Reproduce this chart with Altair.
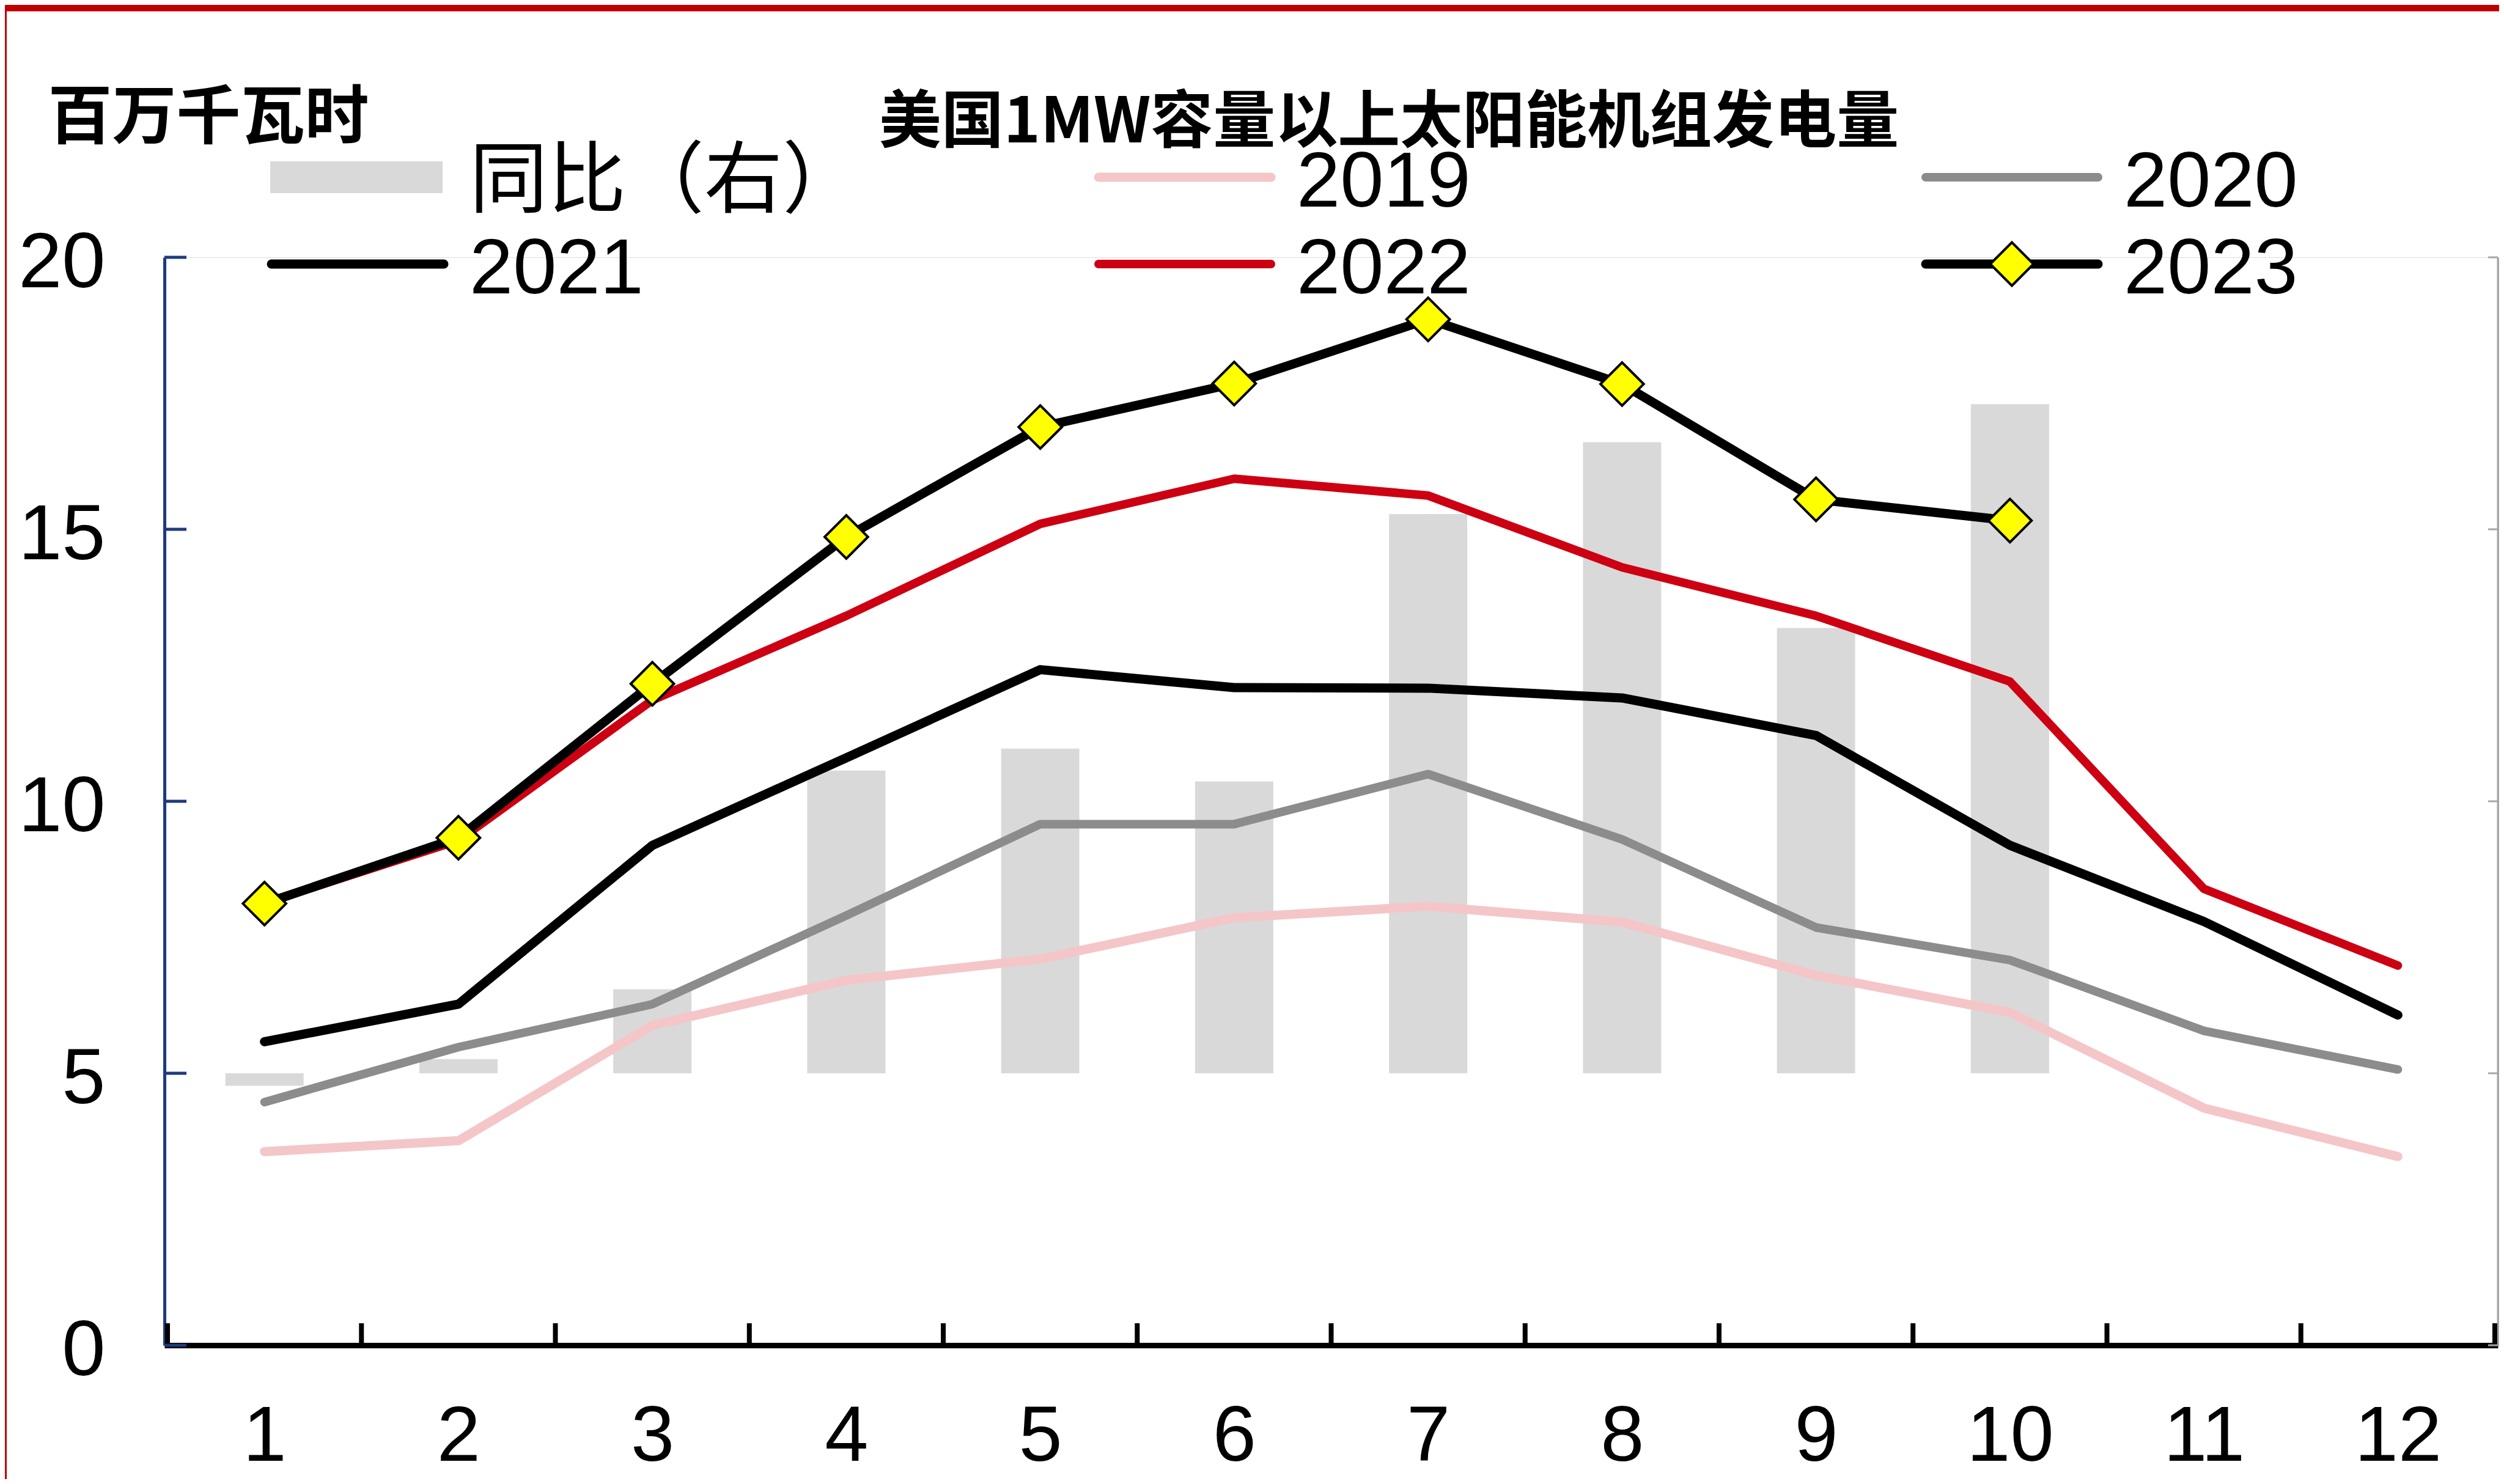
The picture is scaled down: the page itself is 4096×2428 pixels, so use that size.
import altair as alt
import pandas as pd

# ---------------- data ----------------
months = list(range(1, 13))
v2019 = [3.56, 3.76, 5.88, 6.71, 7.10, 7.86, 8.07, 7.78, 6.80, 6.12, 4.36, 3.47]
v2020 = [4.47, 5.48, 6.27, 7.90, 9.58, 9.58, 10.50, 9.30, 7.68, 7.08, 5.78, 5.07]
v2021 = [5.58, 6.27, 9.19, 10.80, 12.42, 12.09, 12.08, 11.90, 11.21, 9.19, 7.79, 6.07]
v2022 = [8.13, 9.28, 11.86, 13.41, 15.10, 15.93, 15.62, 14.30, 13.41, 12.20, 8.39, 6.98]
v2023 = [8.12, 9.33, 12.16, 14.86, 16.88, 17.68, 18.86, 17.67, 15.55, 15.16]
yoy = [-0.46, 0.52, 3.09, 11.13, 11.94, 10.73, 20.56, 23.20, 16.37, 24.60]   # 同比 %, right axis
left_ticks = [0, 5, 10, 15, 20]
right_domain = [-10, 30]
legend_names = ["同比（右）", "2019", "2020", "2021", "2022", "2023"]
title_text = "美国1MW容量以上太阳能机组发电量"
unit_text = "百万千瓦时"

# ---------------- layout / style ----------------
W, H = 3817, 1780
PAD = {"left": 261, "top": 413, "right": 2, "bottom": 219}
FONT = "'Liberation Sans', 'Noto Sans CJK SC', sans-serif"
CJK = "'Noto Sans CJK SC', sans-serif"
NAVY = "#1B3C7C"
RGRAY = "#A6A6A6"
BARC = "#D9D9D9"
FRAME = "#C00000"
colors = {"2019": "#F4C6C8", "2020": "#8C8C8C", "2021": "#000000",
          "2022": "#CC0012", "2023": "#000000"}
widths = {"2019": 15, "2020": 14, "2021": 15, "2022": 14, "2023": 15}
DIAMOND = 5000

xscale = alt.Scale(domain=[0.5, 12.5], nice=False, zero=False)
yscale = alt.Scale(domain=[0, 20], nice=False)
yscale_r = alt.Scale(domain=right_domain, nice=False, zero=False)

xaxis = alt.Axis(values=months, title=None, labelFontSize=128, labelFont=FONT,
                 labelColor="black", labelPadding=87, ticks=False, tickSize=0,
                 domainColor="black", domainWidth=9, grid=False, labelFlush=False,
                 labelOverlap=False, labelAngle=0, labelBaseline="top", labelAlign="center")
yaxis = alt.Axis(values=left_ticks, title=unit_text, titleAngle=0, titleAlign="left",
                 titleBaseline="alphabetic", titleX=-191, titleY=-196, titleFont=CJK,
                 titleFontSize=105, titleFontWeight="bold", titleColor="black",
                 labelFontSize=128, labelFont=FONT, labelColor="black", labelPadding=97,
                 ticks=False, tickSize=0, domainColor=NAVY, domainWidth=5, grid=False,
                 labelBaseline="middle", labelOffset=10, labelFlush=False, orient="left")
yaxis_r = alt.Axis(orient="right", labels=False, ticks=False, tickSize=0, title=None,
                   domainColor=RGRAY, domainWidth=4, grid=False)

X = alt.X("month:Q", scale=xscale, axis=xaxis)
Y = alt.Y("value:Q", scale=yscale, axis=yaxis)

# ---------------- bars (right axis) ----------------
bar_df = pd.DataFrame({"month": months[:len(yoy)], "yoy": yoy})
bars = alt.Chart(bar_df).mark_bar(size=128, color=BARC).encode(
    x=X, y=alt.Y("yoy:Q", scale=yscale_r, axis=yaxis_r))

# ---------------- lines ----------------
def line(name, vals):
    df = pd.DataFrame({"month": months[:len(vals)], "value": vals})
    return alt.Chart(df).mark_line(color=colors[name], strokeWidth=widths[name],
                                   strokeCap="round", strokeJoin="round").encode(x=X, y=Y)

series = [("2019", v2019), ("2020", v2020), ("2021", v2021), ("2022", v2022), ("2023", v2023)]
layers = [line(n, v) for n, v in series]
pts_df = pd.DataFrame({"month": months[:len(v2023)], "value": v2023})
layers.append(alt.Chart(pts_df).mark_point(shape="diamond", size=DIAMOND, filled=True,
                                           fill="#FFFF00", stroke="black", strokeWidth=4,
                                           opacity=1).encode(x=X, y=Y))

# ---------------- inward ticks ----------------
bounds = pd.DataFrame({"b": [m - 0.5 for m in months] + [months[-1] + 0.5]})
layers.append(alt.Chart(bounds).mark_rule(color="black", strokeWidth=8).encode(
    x=alt.X("b:Q", scale=xscale, axis=xaxis), y=alt.value(H - 36), y2=alt.value(H)))
tick_df = pd.DataFrame({"value": left_ticks})
layers.append(alt.Chart(tick_df).mark_rule(color=NAVY, strokeWidth=5).encode(
    y=Y, x=alt.value(0), x2=alt.value(36)))
layers.append(alt.Chart(tick_df).mark_rule(color=RGRAY, strokeWidth=3).encode(
    y=Y, x=alt.value(W - 16), x2=alt.value(W)))

# ---------------- legend (3 columns x 2 rows) ----------------
one = pd.DataFrame({"k": [0]})
LX0, LDX, LY0, LDY = 167, 1353, -131, 142
SW, TXT_DX, TXT_DY = 298, 332, 48
for i, name in enumerate(legend_names):
    col, row = i % 3, i // 3
    x0 = LX0 + col * LDX
    yy = LY0 + row * LDY
    if i == 0:
        layers.append(alt.Chart(one).mark_rule(color=BARC, strokeWidth=52, strokeCap="butt").encode(
            x=alt.value(x0 + 6), x2=alt.value(x0 + SW - 10), y=alt.value(yy)))
    else:
        layers.append(alt.Chart(one).mark_rule(color=colors[name], strokeWidth=widths[name],
                                               strokeCap="round").encode(
            x=alt.value(x0 + 8), x2=alt.value(x0 + SW - 8), y=alt.value(yy)))
        if name == "2023":
            layers.append(alt.Chart(one).mark_point(shape="diamond", size=DIAMOND, filled=True,
                                                    fill="#FFFF00", stroke="black", strokeWidth=4,
                                                    opacity=1).encode(
                x=alt.value(x0 + SW / 2), y=alt.value(yy)))
    layers.append(alt.Chart(one).mark_text(text=name, font=FONT, fontSize=128, color="black",
                                           align="left", baseline="alphabetic").encode(
        x=alt.value(x0 + TXT_DX), y=alt.value(yy + TXT_DY)))

# ---------------- chart title ----------------
layers.append(alt.Chart(one).mark_text(text=title_text, font=CJK, fontSize=102, fontWeight="bold",
                                       color="black", align="center", baseline="alphabetic").encode(
    x=alt.value(2003), y=alt.value(-188)))

# ---------------- red frame (top and left edges) ----------------
layers.append(alt.Chart(one).mark_rule(color=FRAME, strokeWidth=11).encode(
    x=alt.value(-PAD["left"]), x2=alt.value(W + PAD["right"]), y=alt.value(-PAD["top"] + 5)))
layers.append(alt.Chart(one).mark_rule(color=FRAME, strokeWidth=3).encode(
    x=alt.value(-PAD["left"] + 1.5), y=alt.value(-PAD["top"]), y2=alt.value(H + PAD["bottom"])))

main = alt.layer(*layers)

chart = alt.layer(bars, main).resolve_scale(y="independent").properties(
    width=W, height=H, padding=PAD,
    autosize=alt.AutoSizeParams(type="none"),
).configure_view(stroke=None).configure(background="white")

chart.save("out.html", embed_options={"renderer": "svg", "actions": False})
